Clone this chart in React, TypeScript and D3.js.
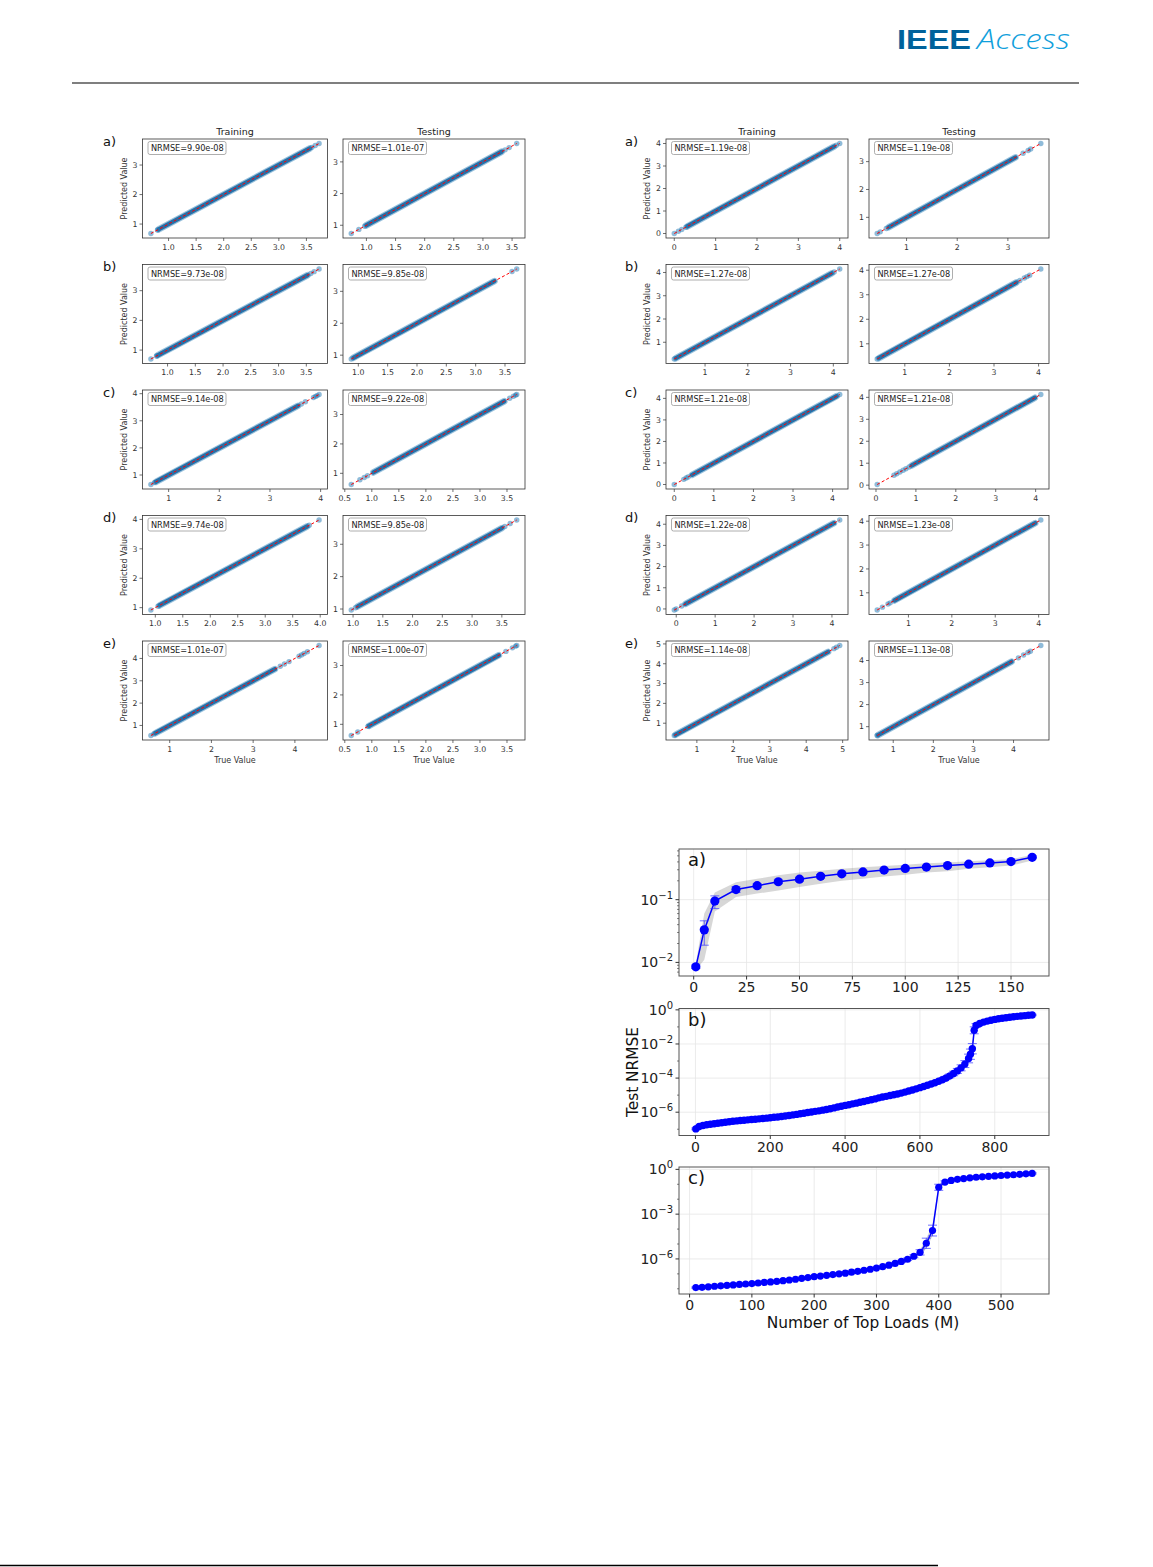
import React from "react";
import * as d3 from "d3";

const FONT = "'DejaVu Sans', Verdana, sans-serif";

// ---------- scatter grids (true vs predicted) ----------
const rowLabels = ["a)", "b)", "c)", "d)", "e)"];

const leftTrainNrmse = ["9.90e-08", "9.73e-08", "9.14e-08", "9.74e-08", "1.01e-07"];
const leftTestNrmse = ["1.01e-07", "9.85e-08", "9.22e-08", "9.85e-08", "1.00e-07"];
const rightTrainNrmse = ["1.19e-08", "1.27e-08", "1.21e-08", "1.22e-08", "1.14e-08"];
const rightTestNrmse = ["1.19e-08", "1.27e-08", "1.21e-08", "1.23e-08", "1.13e-08"];

// isolated points along the diagonal (true value)
const leftTrainPoints = [
  [0.68, 0.8, 3.6, 3.66, 3.73],
  [0.7, 0.8, 3.58, 3.64, 3.73],
  [0.65, 0.72, 3.62, 3.7, 3.86, 3.9, 3.93, 3.97],
  [0.92, 1.05, 3.8, 3.98],
  [0.55, 0.62, 3.65, 3.75, 3.86, 4.1, 4.16, 4.22, 4.3, 4.58],
];
const leftTestPoints = [
  [0.74, 0.87, 0.97, 3.38, 3.45, 3.58],
  [0.88, 3.62, 3.7],
  [0.62, 0.78, 0.86, 0.92, 3.55, 3.62, 3.66, 3.68],
  [0.97, 1.04, 3.55, 3.64, 3.75],
  [0.62, 0.74, 0.93, 3.48, 3.6, 3.66, 3.68],
];
const rightTrainPoints = [
  [0.0, 0.1, 0.18, 0.28, 3.92, 4.0],
  [0.28, 4.02, 4.15],
  [0.0, 0.24, 0.3, 0.35, 4.18],
  [-0.05, 0.0, 0.14, 4.2],
  [0.38, 4.76, 4.83, 4.92],
];
const rightTestPoints = [
  [0.42, 0.48, 0.6, 3.3, 3.4, 3.45, 3.65],
  [0.38, 3.58, 3.68, 3.74, 3.8, 4.05],
  [0.03, 0.45, 0.52, 0.6, 0.68, 0.75, 0.83, 4.13],
  [0.28, 0.4, 0.53, 0.58, 4.05],
  [0.6, 4.12, 4.25, 4.36, 4.42, 4.68],
];

// range where the points form a continuous band
const leftTrainDense = [[0.82, 3.56], [0.82, 3.52], [0.75, 3.55], [1.08, 3.76], [0.66, 3.52]];
const leftTestDense = [[1.0, 3.32], [0.92, 3.32], [1.03, 3.45], [1.08, 3.5], [0.95, 3.35]];
const rightTrainDense = [[0.32, 3.86], [0.32, 3.96], [0.45, 4.1], [0.24, 4.05], [0.42, 4.6]];
const rightTestDense = [[0.65, 3.15], [0.42, 3.5], [0.9, 3.98], [0.68, 3.92], [0.62, 3.95]];

const halfTicks = [1, 1.5, 2, 2.5, 3, 3.5];
const leftTrainXTicks = [halfTicks, halfTicks, [1, 2, 3, 4], [1, 1.5, 2, 2.5, 3, 3.5, 4], [1, 2, 3, 4]];
const leftTestXTicks = [halfTicks, halfTicks, [0.5, ...halfTicks], halfTicks, [0.5, ...halfTicks]];
const rightTrainXTicks = [[0, 1, 2, 3, 4], [1, 2, 3, 4], [0, 1, 2, 3, 4], [0, 1, 2, 3, 4], [1, 2, 3, 4, 5]];
const rightTestXTicks = [[1, 2, 3], [1, 2, 3, 4], [0, 1, 2, 3, 4], [1, 2, 3, 4], [1, 2, 3, 4]];

// ---------- Test NRMSE vs number of top loads ----------
const aLoads = [1, 5, 10, 20, 30, 40, 50, 60, 70, 80, 90, 100, 110, 120, 130, 140, 150, 160];
const aNrmse = [0.0085, 0.033, 0.095, 0.145, 0.167, 0.193, 0.212, 0.236, 0.258, 0.277, 0.297, 0.315, 0.331, 0.35, 0.368, 0.386, 0.405, 0.473];
const aErrLo = [0.008, 0.0188, 0.072, 0.13, 0.155, 0.18, 0.197, 0.22, 0.242, 0.26, 0.28, 0.298, 0.314, 0.333, 0.35, 0.368, 0.386, 0.45];
const aErrHi = [0.0091, 0.046, 0.115, 0.16, 0.18, 0.207, 0.228, 0.252, 0.275, 0.295, 0.315, 0.333, 0.348, 0.368, 0.386, 0.405, 0.425, 0.498];
const aBandLo = [0.0075, 0.011, 0.065, 0.11, 0.125, 0.14, 0.16, 0.18, 0.2, 0.215, 0.235, 0.25, 0.27, 0.285, 0.31, 0.33, 0.35, 0.42];
const aBandHi = [0.0095, 0.06, 0.13, 0.19, 0.215, 0.245, 0.27, 0.29, 0.31, 0.33, 0.345, 0.36, 0.38, 0.39, 0.41, 0.425, 0.44, 0.52];

const bLoads = [
  1, 10, 20, 30, 40, 50, 60, 70, 80, 90,
  100, 110, 120, 130, 140, 150, 160, 170, 180, 190,
  200, 210, 220, 230, 240, 250, 260, 270, 280, 290,
  300, 310, 320, 330, 340, 350, 360, 370, 380, 390,
  400, 410, 420, 430, 440, 450, 460, 470, 480, 490,
  500, 510, 520, 530, 540, 550, 560, 570, 580, 590,
  600, 610, 620, 630, 640, 650, 660, 670, 680, 690,
  700, 710, 720, 730, 735, 740, 745, 750, 760, 770,
  780, 790, 800, 810, 820, 830, 840, 850, 860, 870,
  880, 890, 900,
];
const bNrmse = [
  1.05e-7, 1.45e-7, 1.66e-7, 1.82e-7, 1.95e-7, 2.09e-7, 2.24e-7, 2.4e-7, 2.57e-7, 2.75e-7,
  2.95e-7, 3.09e-7, 3.24e-7, 3.39e-7, 3.55e-7, 3.72e-7, 3.89e-7, 4.07e-7, 4.27e-7, 4.47e-7,
  4.68e-7, 5.01e-7, 5.25e-7, 5.62e-7, 6.03e-7, 6.46e-7, 6.92e-7, 7.41e-7, 8.13e-7, 8.71e-7,
  9.55e-7, 1.02e-6, 1.12e-6, 1.2e-6, 1.32e-6, 1.45e-6, 1.58e-6, 1.78e-6, 2.0e-6, 2.24e-6,
  2.51e-6, 2.75e-6, 3.09e-6, 3.39e-6, 3.8e-6, 4.27e-6, 4.79e-6, 5.37e-6, 6.03e-6, 6.92e-6,
  7.76e-6, 8.51e-6, 9.55e-6, 1.05e-5, 1.17e-5, 1.32e-5, 1.51e-5, 1.74e-5, 2.0e-5, 2.34e-5,
  2.75e-5, 3.24e-5, 3.8e-5, 4.47e-5, 5.37e-5, 6.46e-5, 7.94e-5, 1.02e-4, 1.35e-4, 1.86e-4,
  2.63e-4, 3.98e-4, 6.61e-4, 1.41e-3, 2.51e-3, 5.25e-3, 6.31e-2, 0.12, 0.158, 0.191,
  0.219, 0.245, 0.275, 0.302, 0.324, 0.347, 0.372, 0.398, 0.417, 0.437,
  0.457, 0.479, 0.501,
];
// multiplicative spread of the runs
const bSpread = [
  1.12, 1.12, 1.12, 1.12, 1.12, 1.12, 1.12, 1.12, 1.12, 1.12,
  1.12, 1.12, 1.12, 1.12, 1.12, 1.12, 1.12, 1.12, 1.12, 1.12,
  1.12, 1.12, 1.12, 1.12, 1.12, 1.12, 1.12, 1.12, 1.12, 1.12,
  1.12, 1.12, 1.12, 1.12, 1.12, 1.12, 1.12, 1.12, 1.12, 1.12,
  1.12, 1.12, 1.12, 1.12, 1.12, 1.12, 1.12, 1.12, 1.12, 1.12,
  1.12, 1.12, 1.12, 1.12, 1.12, 1.12, 1.12, 1.12, 1.12, 1.12,
  1.12, 1.12, 1.12, 1.12, 1.12, 1.2, 1.22, 1.25, 1.3, 1.35,
  1.4, 1.5, 1.6, 1.8, 2.0, 2.0, 1.6, 1.3, 1.15, 1.12,
  1.1, 1.1, 1.1, 1.1, 1.1, 1.1, 1.1, 1.1, 1.1, 1.1,
  1.1, 1.1, 1.1,
];

const cLoads = [10, 20, 30, 40, 50, 60, 70, 80, 90, 100, 110, 120, 130, 140, 150, 160, 170, 180, 190, 200, 210, 220, 230, 240, 250, 260, 270, 280, 290, 300, 310, 320, 330, 340, 350, 360, 370, 380, 390, 400, 410, 420, 430, 440, 450, 460, 470, 480, 490, 500, 510, 520, 530, 540, 550];
const cNrmse = [1.2e-8, 1.26e-8, 1.35e-8, 1.48e-8, 1.58e-8, 1.7e-8, 1.82e-8, 1.95e-8, 2.09e-8, 2.24e-8, 2.45e-8, 2.69e-8, 2.88e-8, 3.16e-8, 3.47e-8, 3.89e-8, 4.37e-8, 5.01e-8, 5.62e-8, 6.46e-8, 7.08e-8, 7.94e-8, 8.91e-8, 1.0e-7, 1.12e-7, 1.29e-7, 1.48e-7, 1.74e-7, 2.04e-7, 2.45e-7, 3.02e-7, 3.8e-7, 5.01e-7, 6.76e-7, 9.55e-7, 1.51e-6, 2.75e-6, 1.12e-5, 7.94e-5, 6.31e-2, 0.141, 0.182, 0.214, 0.24, 0.269, 0.295, 0.316, 0.339, 0.363, 0.389, 0.417, 0.437, 0.468, 0.501, 0.537];
const cSpread = [1.1, 1.1, 1.1, 1.1, 1.1, 1.1, 1.1, 1.1, 1.1, 1.1, 1.1, 1.1, 1.1, 1.1, 1.1, 1.1, 1.1, 1.1, 1.1, 1.1, 1.1, 1.1, 1.1, 1.1, 1.1, 1.1, 1.1, 1.1, 1.1, 1.12, 1.12, 1.15, 1.15, 1.18, 1.2, 1.25, 1.5, 2.2, 2.3, 1.6, 1.2, 1.1, 1.1, 1.1, 1.1, 1.1, 1.1, 1.1, 1.1, 1.1, 1.1, 1.1, 1.1, 1.1, 1.1];

const aXTicks = [0, 25, 50, 75, 100, 125, 150];
const bXTicks = [0, 200, 400, 600, 800];
const cXTicks = [0, 100, 200, 300, 400, 500];
const aYExps = [-2, -1];
const bYExps = [-6, -4, -2, 0];
const cYExps = [-6, -3, 0];
const chartLabels = ["a)", "b)", "c)"];

// ---------- components ----------
type ScatterProps = {
  x: number; y: number; w: number; h: number;
  pts: number[]; dense: number[]; xTicks: number[]; nrmse: string;
  xLabel: boolean;
};

function Scatter({ x, y, w, h, pts, dense, xTicks, nrmse, xLabel }: ScatterProps) {
  const lo = Math.min(...pts, dense[0]);
  const hi = Math.max(...pts, dense[1]);
  const pad = (hi - lo) * 0.05;
  const sx = d3.scaleLinear().domain([lo - pad, hi + pad]).range([x, x + w]);
  const sy = d3.scaleLinear().domain([lo - pad, hi + pad]).range([y + h, y]);
  const yTicks = d3.range(Math.ceil(lo - pad), Math.floor(hi + pad) + 1);
  const fmt = xTicks.some((t) => !Number.isInteger(t)) ? d3.format(".1f") : d3.format("d");
  const bottom = y + h;
  return (
    <g>
      <rect x={x} y={y} width={w} height={h} fill="#fff" />
      <line x1={sx(dense[0])} y1={sy(dense[0])} x2={sx(dense[1])} y2={sy(dense[1])}
        stroke="#1f77b4" strokeOpacity={0.45} strokeWidth={6.6} strokeLinecap="round" />
      <line x1={sx(dense[0])} y1={sy(dense[0])} x2={sx(dense[1])} y2={sy(dense[1])}
        stroke="#2670a8" strokeWidth={4.4} strokeLinecap="round" />
      {pts.map((p, i) => (
        <circle key={i} cx={sx(p)} cy={sy(p)} r={2.7} fill="#1f77b4" fillOpacity={0.5} />
      ))}
      <line x1={sx(lo)} y1={sy(lo)} x2={sx(hi)} y2={sy(hi)} stroke="red" strokeWidth={1}
        strokeDasharray="3,2.2" />
      <rect x={x} y={y} width={w} height={h} fill="none" stroke="#333" strokeWidth={0.8} />
      {xTicks.map((t) => (
        <g key={"x" + t}>
          <line x1={sx(t)} x2={sx(t)} y1={bottom} y2={bottom + 3} stroke="#333" strokeWidth={0.7} />
          <text x={sx(t)} y={bottom + 11.5} fontSize={7.8} textAnchor="middle" fill="#333">{fmt(t)}</text>
        </g>
      ))}
      {yTicks.map((t) => (
        <g key={"y" + t}>
          <line x1={x - 3} x2={x} y1={sy(t)} y2={sy(t)} stroke="#333" strokeWidth={0.7} />
          <text x={x - 5} y={sy(t) + 2.8} fontSize={7.8} textAnchor="end" fill="#333">{t}</text>
        </g>
      ))}
      <rect x={x + 5.5} y={y + 2.5} width={78} height={13} rx={2} fill="#fff" stroke="#999" strokeWidth={0.8} />
      <text x={x + 8.5} y={y + 12.2} fontSize={8.2} fill="#222">NRMSE={nrmse}</text>
      {xLabel && (
        <text x={x + w / 2} y={bottom + 23} fontSize={8} textAnchor="middle" fill="#333">True Value</text>
      )}
    </g>
  );
}

type FigCols = {
  trainX: number; trainW: number; testX: number; testW: number;
  labelX: number; yLabelX: number;
  trainNrmse: string[]; testNrmse: string[];
  trainPts: number[][]; testPts: number[][];
  trainDense: number[][]; testDense: number[][];
  trainTicks: number[][]; testTicks: number[][];
};

const rowTops = [139, 264.5, 390, 515.5, 641];
const rowH = 99;

function ScatterFigure(c: FigCols) {
  return (
    <g>
      <text x={c.trainX + c.trainW / 2} y={134.5} fontSize={9.5} textAnchor="middle" fill="#222">Training</text>
      <text x={c.testX + c.testW / 2} y={134.5} fontSize={9.5} textAnchor="middle" fill="#222">Testing</text>
      {rowTops.map((top, i) => (
        <g key={i}>
          <text x={c.labelX} y={top + 6.5} fontSize={13} fill="#111">{rowLabels[i]}</text>
          <text transform={`translate(${c.yLabelX},${top + rowH / 2}) rotate(-90)`} fontSize={8}
            textAnchor="middle" dominantBaseline="central" fill="#333">Predicted Value</text>
          <Scatter x={c.trainX} y={top} w={c.trainW} h={rowH} pts={c.trainPts[i]} dense={c.trainDense[i]}
            xTicks={c.trainTicks[i]} nrmse={c.trainNrmse[i]} xLabel={i === 4} />
          <Scatter x={c.testX} y={top} w={c.testW} h={rowH} pts={c.testPts[i]} dense={c.testDense[i]}
            xTicks={c.testTicks[i]} nrmse={c.testNrmse[i]} xLabel={i === 4} />
        </g>
      ))}
    </g>
  );
}

type LogProps = {
  top: number; xs: number[]; ys: number[];
  errLo: number[]; errHi: number[]; bandLo: number[]; bandHi: number[];
  xTicks: number[]; yExps: number[]; minor: number[]; label: string; r: number;
};

const CH_X = 679;
const CH_W = 370;
const CH_H = 127;

function LogChart({ top, xs, ys, errLo, errHi, bandLo, bandHi, xTicks, yExps, minor, label, r }: LogProps) {
  const [x0, x1] = d3.extent(xs) as [number, number];
  const xp = (x1 - x0) * 0.05;
  const sx = d3.scaleLinear().domain([x0 - xp, x1 + xp]).range([CH_X, CH_X + CH_W]);
  const l0 = Math.log10(d3.min(bandLo) as number);
  const l1 = Math.log10(d3.max(bandHi) as number);
  const lp = (l1 - l0) * 0.05;
  const sy = d3.scaleLog().domain([10 ** (l0 - lp), 10 ** (l1 + lp)]).range([top + CH_H, top]);
  const bottom = top + CH_H;
  const idx = d3.range(xs.length);
  const area = d3.area<number>().x((i) => sx(xs[i])).y0((i) => sy(bandLo[i])).y1((i) => sy(bandHi[i]));
  const line = d3.line<number>().x((i) => sx(xs[i])).y((i) => sy(ys[i]));
  const exp = (e: number) => (e < 0 ? "\u2212" + Math.abs(e) : String(e));
  return (
    <g>
      <rect x={CH_X} y={top} width={CH_W} height={CH_H} fill="#fff" />
      {xTicks.map((t) => (
        <line key={"gx" + t} x1={sx(t)} x2={sx(t)} y1={top} y2={bottom} stroke="#e6e6e6" strokeWidth={0.8} />
      ))}
      {yExps.map((e) => (
        <line key={"gy" + e} x1={CH_X} x2={CH_X + CH_W} y1={sy(10 ** e)} y2={sy(10 ** e)} stroke="#e6e6e6" strokeWidth={0.8} />
      ))}
      <path d={area(idx) ?? ""} fill="#8c8c8c" fillOpacity={0.35} />
      <path d={line(idx) ?? ""} fill="none" stroke="#0000ff" strokeWidth={1.5} />
      {idx.map((i) => (
        <g key={"e" + i} stroke="#3333ff" strokeOpacity={0.7} strokeWidth={1}>
          <line x1={sx(xs[i])} x2={sx(xs[i])} y1={sy(errLo[i])} y2={sy(errHi[i])} />
          <line x1={sx(xs[i]) - 4.5} x2={sx(xs[i]) + 4.5} y1={sy(errLo[i])} y2={sy(errLo[i])} />
          <line x1={sx(xs[i]) - 4.5} x2={sx(xs[i]) + 4.5} y1={sy(errHi[i])} y2={sy(errHi[i])} />
        </g>
      ))}
      {idx.map((i) => (
        <circle key={"m" + i} cx={sx(xs[i])} cy={sy(ys[i])} r={r} fill="#0000ff" />
      ))}
      <rect x={CH_X} y={top} width={CH_W} height={CH_H} fill="none" stroke="#555" strokeWidth={1} />
      {xTicks.map((t) => (
        <g key={"x" + t}>
          <line x1={sx(t)} x2={sx(t)} y1={bottom} y2={bottom + 3.5} stroke="#333" />
          <text x={sx(t)} y={bottom + 16} fontSize={14} textAnchor="middle" fill="#222">{t}</text>
        </g>
      ))}
      {minor.map((v, i) => (
        <line key={"n" + i} x1={CH_X - 2} x2={CH_X} y1={sy(v)} y2={sy(v)} stroke="#333" strokeWidth={0.6} />
      ))}
      {yExps.map((e) => (
        <g key={"y" + e}>
          <line x1={CH_X - 3.5} x2={CH_X} y1={sy(10 ** e)} y2={sy(10 ** e)} stroke="#333" />
          <text x={CH_X - 6} y={sy(10 ** e) + 5} fontSize={14} textAnchor="end" fill="#222">
            10<tspan dy={-6} fontSize={10}>{exp(e)}</tspan>
          </text>
        </g>
      ))}
      <text x={CH_X + 9} y={top + 17} fontSize={18} fill="#111">{label}</text>
    </g>
  );
}

function minorTicks(expLo: number, expHi: number, subs: number[]) {
  const out: number[] = [];
  for (let e = expLo; e <= expHi; e++) subs.forEach((s) => out.push(s * 10 ** e));
  return out;
}

export default function App() {
  const chartTops = [849, 1008.5, 1167];
  const aMinor = minorTicks(-3, -1, [2, 3, 4, 5, 6, 7, 8, 9]).filter((v) => v > 0.0068 && v < 0.62);
  const bMinor = [-7, -5, -3, -1].map((e) => 10 ** e);
  const cMinor = [-8, -7, -5, -4, -2, -1].map((e) => 10 ** e);
  return (
    <svg width={1153} height={1567} style={{ position: "absolute", left: 0, top: 0 }} fontFamily={FONT}>
      <rect width={1153} height={1567} fill="#fff" />
      {/* header */}
      <text x={897} y={49} fontFamily="'Liberation Sans', Arial, sans-serif" fontWeight={700} fontSize={28}
        fill="#00629b" textLength={74} lengthAdjust="spacingAndGlyphs">IEEE</text>
      <text x={977} y={49} fontFamily="'Open Sans', sans-serif" fontWeight={300} fontStyle="italic" fontSize={28}
        fill="#10a0dc" textLength={93} lengthAdjust="spacingAndGlyphs">Access</text>
      <line x1={72} x2={1079} y1={83} y2={83} stroke="#000" strokeWidth={1.2} />

      <ScatterFigure trainX={142.5} trainW={185} testX={343} testW={182} labelX={103} yLabelX={124}
        trainNrmse={leftTrainNrmse} testNrmse={leftTestNrmse}
        trainPts={leftTrainPoints} testPts={leftTestPoints}
        trainDense={leftTrainDense} testDense={leftTestDense}
        trainTicks={leftTrainXTicks} testTicks={leftTestXTicks} />
      <ScatterFigure trainX={666} trainW={182} testX={869} testW={180} labelX={625} yLabelX={647}
        trainNrmse={rightTrainNrmse} testNrmse={rightTestNrmse}
        trainPts={rightTrainPoints} testPts={rightTestPoints}
        trainDense={rightTrainDense} testDense={rightTestDense}
        trainTicks={rightTrainXTicks} testTicks={rightTestXTicks} />

      {/* NRMSE vs number of top loads */}
      <LogChart top={chartTops[0]} xs={aLoads} ys={aNrmse} errLo={aErrLo} errHi={aErrHi}
        bandLo={aBandLo} bandHi={aBandHi} xTicks={aXTicks} yExps={aYExps} minor={aMinor}
        label={chartLabels[0]} r={4.6} />
      <LogChart top={chartTops[1]} xs={bLoads} ys={bNrmse}
        errLo={bNrmse.map((v, i) => v / bSpread[i])} errHi={bNrmse.map((v, i) => v * bSpread[i])}
        bandLo={bNrmse.map((v, i) => v / bSpread[i])} bandHi={bNrmse.map((v, i) => v * bSpread[i])}
        xTicks={bXTicks} yExps={bYExps} minor={bMinor} label={chartLabels[1]} r={3.7} />
      <LogChart top={chartTops[2]} xs={cLoads} ys={cNrmse}
        errLo={cNrmse.map((v, i) => v / cSpread[i])} errHi={cNrmse.map((v, i) => v * cSpread[i])}
        bandLo={cNrmse.map((v, i) => v / cSpread[i])} bandHi={cNrmse.map((v, i) => v * cSpread[i])}
        xTicks={cXTicks} yExps={cYExps} minor={cMinor} label={chartLabels[2]} r={3.6} />
      <text transform={`translate(633,${chartTops[1] + CH_H / 2}) rotate(-90)`} fontSize={15.4}
        textAnchor="middle" dominantBaseline="central" fill="#111">Test NRMSE</text>
      <text x={CH_X + CH_W / 2 - 1} y={1328} fontSize={15.4} textAnchor="middle" fill="#111">Number of Top Loads (M)</text>

      <line x1={0} x2={938} y1={1565.5} y2={1565.5} stroke="#000" strokeWidth={1.5} />
    </svg>
  );
}
